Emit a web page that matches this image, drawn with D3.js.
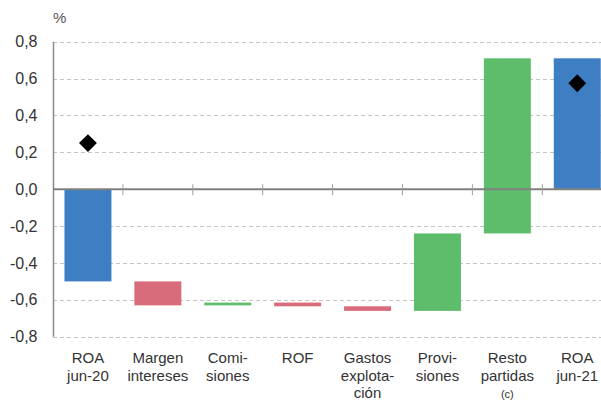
<!DOCTYPE html>
<html>
<head>
<meta charset="utf-8">
<script src="https://cdn.jsdelivr.net/npm/d3@7"></script>
<style>
  html, body { margin: 0; padding: 0; background: #fff; }
  svg { display: block; font-family: "Liberation Sans", Arial, Helvetica, sans-serif; }
</style>
</head>
<body>
<svg id="chart" width="601" height="401"></svg>
<script>
// ---- data ----
const categories = ["ROA jun-20", "Margen intereses", "Comisiones", "ROF", "Gastos explotación", "Provisiones", "Resto partidas (c)", "ROA jun-21"];
const labelLines = [["ROA", "jun-20"], ["Margen", "intereses"], ["Comi-", "siones"], ["ROF"], ["Gastos", "explota-", "ción"], ["Provi-", "siones"], ["Resto", "partidas", "(c)"], ["ROA", "jun-21"]];
const barStart = [0, -0.50, -0.63, -0.615, -0.635, -0.66, -0.24, 0];
const barEnd   = [-0.50, -0.63, -0.615, -0.635, -0.66, -0.24, 0.71, 0.71];
const barKind  = ["total", "down", "up", "down", "down", "up", "up", "total"];
const markerCategories = ["ROA jun-20", "ROA jun-21"];
const markerValues = [0.25, 0.575];
const yTicks = [-0.8, -0.6, -0.4, -0.2, 0, 0.2, 0.4, 0.6, 0.8];
const unitLabel = "%";

const colors = { total: "#3e7fc3", down: "#d96c7a", up: "#5ebd6a" };

// ---- layout ----
const svg = d3.select("#chart");
const x0 = 53, xEnd = 612.2, plotRight = 601;
const y = d3.scaleLinear().domain([-0.8, 0.8]).range([336.7, 41.7]);
const x = d3.scaleBand().domain(categories).range([x0, xEnd]).paddingInner(0.328).paddingOuter(0.164);
const step = x.step();

const fmt = d3.formatLocale({ decimal: ",", thousands: ".", grouping: [3], currency: ["", "€"], minus: "-" }).format(".1f");

// gridlines
svg.append("g").selectAll("line").data(yTicks.filter(t => t !== 0)).join("line")
  .attr("x1", x0).attr("x2", plotRight)
  .attr("y1", d => Math.round(y(d)) + 0.5).attr("y2", d => Math.round(y(d)) + 0.5)
  .attr("stroke", "#c4c4c4").attr("stroke-width", 1).attr("stroke-dasharray", "4,3");

// y axis labels
const yAxis = d3.axisLeft(y).tickValues(yTicks).tickSize(0).tickPadding(15.5).tickFormat(fmt);
const gy = svg.append("g").attr("transform", `translate(${x0},0)`).call(yAxis);
gy.select(".domain").remove();
gy.selectAll("text").attr("fill", "#333").style("font-size", "16px")
  .style("font-family", "'Liberation Sans', Arial, sans-serif");

// bars
svg.append("g").selectAll("rect").data(categories).join("rect")
  .attr("x", d => x(d))
  .attr("width", x.bandwidth())
  .attr("y", (d, i) => y(Math.max(barStart[i], barEnd[i])))
  .attr("height", (d, i) => Math.abs(y(barStart[i]) - y(barEnd[i])))
  .attr("fill", (d, i) => colors[barKind[i]]);

// vertical axis line
svg.append("line").attr("x1", x0 + 0.5).attr("x2", x0 + 0.5)
  .attr("y1", y(0.8)).attr("y2", y(-0.8))
  .attr("stroke", "#8a8a8a").attr("stroke-width", 1.5);

// zero line
svg.append("line").attr("x1", x0).attr("x2", plotRight)
  .attr("y1", y(0)).attr("y2", y(0))
  .attr("stroke", "#808080").attr("stroke-width", 2);

// category boundary ticks on zero line
svg.append("g").selectAll("line").data(categories.slice(1)).join("line")
  .attr("x1", d => x(d) - step * x.paddingInner() / 2)
  .attr("x2", d => x(d) - step * x.paddingInner() / 2)
  .attr("y1", y(0) - 5).attr("y2", y(0) + 6)
  .attr("stroke", "#a0a0a0").attr("stroke-width", 1);

// diamonds
svg.append("g").selectAll("path").data(markerCategories).join("path")
  .attr("d", d3.symbol().type(d3.symbolSquare).size(160))
  .attr("transform", (d, i) => `translate(${x(d) + x.bandwidth() / 2},${y(markerValues[i])}) rotate(45)`)
  .attr("fill", "#000");

// category labels
const lab = svg.append("g").selectAll("text").data(categories).join("text")
  .attr("text-anchor", "middle").attr("fill", "#333").style("font-size", "15px");
lab.each(function (d, i) {
  const t = d3.select(this);
  labelLines[i].forEach((line, j) => {
    t.append("tspan")
      .attr("x", x(d) + x.bandwidth() / 2)
      .attr("y", 363 + j * 17.6)
      .style("font-size", line === "(c)" ? "11px" : "15px")
      .text(line);
  });
});

// unit label
svg.append("text").attr("x", 53).attr("y", 23).attr("fill", "#555")
  .style("font-size", "15px").text(unitLabel);
</script>
</body>
</html>
